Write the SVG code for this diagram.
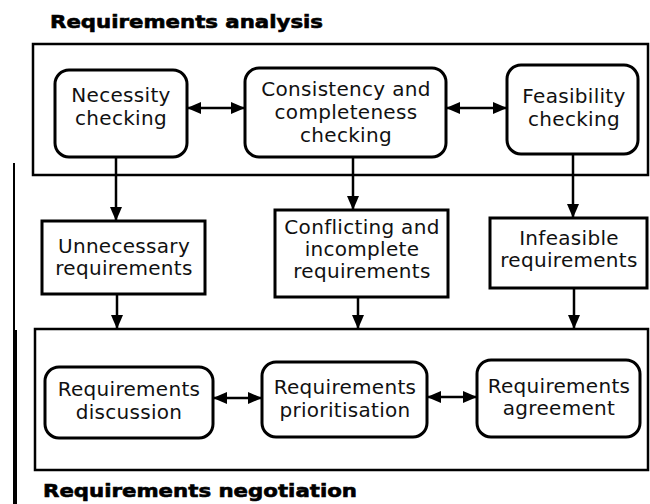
<svg xmlns="http://www.w3.org/2000/svg" width="650" height="504" viewBox="0 0 650 504">
<defs>
<style>
.frame{fill:none;stroke:#000;stroke-width:2.5}
.node{fill:#fff;stroke:#000;stroke-width:3}
.t{font-family:"DejaVu Sans","Liberation Sans",sans-serif;font-size:20px;letter-spacing:0.3px;fill:#111;text-anchor:middle}
.title{font-family:"DejaVu Sans","Liberation Sans",sans-serif;font-size:18px;font-weight:bold;fill:#000}
.c{fill:none;stroke:#000;stroke-width:2.5}
</style>
<marker id="ah" markerUnits="userSpaceOnUse" markerWidth="14" markerHeight="12" refX="13" refY="6" orient="auto-start-reverse">
<path d="M0,0 L14,6 L0,12 z" fill="#000"/>
</marker>
</defs>
<rect width="650" height="504" fill="#fff"/>

<g id="analysis-frame">
<rect class="frame" x="33" y="44" width="615" height="131"/>
<text class="title" x="50" y="28" textLength="273" lengthAdjust="spacingAndGlyphs" stroke="#000" stroke-width="0.6">Requirements analysis</text>
</g>
<g id="negotiation-frame">
<rect class="frame" x="35" y="329" width="613" height="141"/>
<text class="title" x="43" y="497" textLength="314" lengthAdjust="spacingAndGlyphs" stroke="#000" stroke-width="0.6">Requirements negotiation</text>
</g>
<g id="side-bar">
<line x1="14" y1="163" x2="14" y2="330" stroke="#000" stroke-width="2"/>
<line x1="15" y1="330" x2="15" y2="504" stroke="#000" stroke-width="4"/>
</g>

<g id="connectors">
<line class="c" x1="188" y1="108" x2="244" y2="108" marker-start="url(#ah)" marker-end="url(#ah)"/>
<line class="c" x1="447" y1="108" x2="506" y2="108" marker-start="url(#ah)" marker-end="url(#ah)"/>
<line class="c" x1="214" y1="398" x2="261" y2="398" marker-start="url(#ah)" marker-end="url(#ah)"/>
<line class="c" x1="428" y1="397" x2="476" y2="397" marker-start="url(#ah)" marker-end="url(#ah)"/>
<line class="c" x1="116" y1="157" x2="116" y2="220" marker-end="url(#ah)"/>
<line class="c" x1="353" y1="157" x2="353" y2="209" marker-end="url(#ah)"/>
<line class="c" x1="573" y1="154" x2="573" y2="217" marker-end="url(#ah)"/>
<line class="c" x1="117" y1="294" x2="117" y2="328" marker-end="url(#ah)"/>
<line class="c" x1="358" y1="297" x2="358" y2="328" marker-end="url(#ah)"/>
<line class="c" x1="574" y1="288" x2="574" y2="328" marker-end="url(#ah)"/>
</g>

<g id="necessity">
<rect class="node" x="55" y="70" width="132" height="87" rx="14"/>
<text class="t" x="121" y="102">Necessity</text>
<text class="t" x="121" y="125">checking</text>
</g>
<g id="consistency">
<rect class="node" x="245" y="68" width="201" height="89" rx="14"/>
<text class="t" x="346" y="96">Consistency and</text>
<text class="t" x="346" y="119">completeness</text>
<text class="t" x="346" y="142">checking</text>
</g>
<g id="feasibility">
<rect class="node" x="507" y="65" width="131" height="89" rx="14"/>
<text class="t" x="574" y="103">Feasibility</text>
<text class="t" x="574" y="126">checking</text>
</g>

<g id="unnecessary">
<rect class="node" x="42" y="221" width="163" height="73"/>
<text class="t" x="124" y="253">Unnecessary</text>
<text class="t" x="124" y="275">requirements</text>
</g>
<g id="conflicting">
<rect class="node" x="275" y="210" width="173" height="87"/>
<text class="t" x="362" y="234">Conflicting and</text>
<text class="t" x="362" y="256">incomplete</text>
<text class="t" x="362" y="278">requirements</text>
</g>
<g id="infeasible">
<rect class="node" x="490" y="218" width="157" height="70"/>
<text class="t" x="569" y="245">Infeasible</text>
<text class="t" x="569" y="267">requirements</text>
</g>

<g id="discussion">
<rect class="node" x="45" y="367" width="168" height="71" rx="14"/>
<text class="t" x="129" y="396">Requirements</text>
<text class="t" x="129" y="419">discussion</text>
</g>
<g id="prioritisation">
<rect class="node" x="262" y="362" width="165" height="75" rx="14"/>
<text class="t" x="345" y="394">Requirements</text>
<text class="t" x="345" y="417">prioritisation</text>
</g>
<g id="agreement">
<rect class="node" x="477" y="360" width="163" height="77" rx="14"/>
<text class="t" x="559" y="393">Requirements</text>
<text class="t" x="559" y="415">agreement</text>
</g>
</svg>
